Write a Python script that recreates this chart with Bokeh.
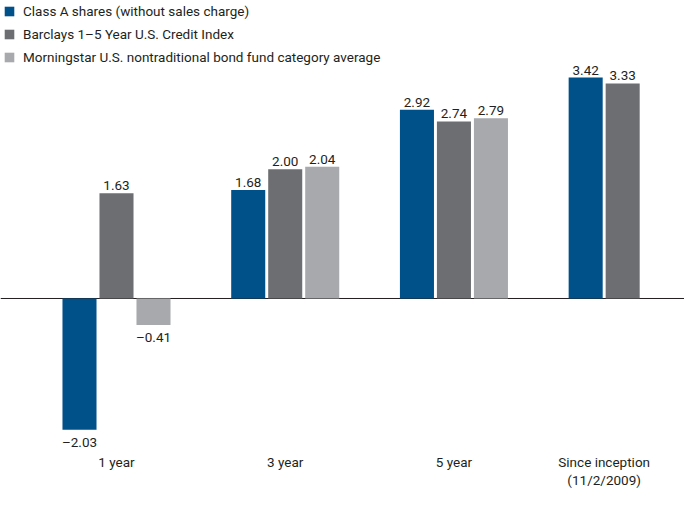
from bokeh.plotting import figure
from bokeh.models import FactorRange, Range1d, ColumnDataSource, Span, Legend, LegendItem
from bokeh.core.properties import value
from bokeh.transform import dodge
from bokeh.embed import file_html
from bokeh.resources import INLINE

periods = ["1 year", "3 year", "5 year", "Since inception"]
period_labels = ["1 year", "3 year", "5 year", "Since inception\n(11/2/2009)"]
series = ["Class A shares (without sales charge)",
          "Barclays 1\u20135 Year U.S. Credit Index",
          "Morningstar U.S. nontraditional bond fund category average"]
series_keys = ["A", "B", "C"]
colors = ["#00508A", "#6D6E71", "#A7A9AC"]

class_a = [-2.03, 1.68, 2.92, 3.42]
barclays = [1.63, 2.00, 2.74, 3.33]
morningstar = [-0.41, 2.04, 2.79, None]

values_by_series = [class_a, barclays, morningstar]

FONT = "Roboto"
TXT = "#231F20"
SHIFT = 0.232  # horizontal shift of the whole bar block, in factor units

factors = []
for i, per in enumerate(periods):
    for k, vals in zip(series_keys, values_by_series):
        if vals[i] is not None:
            factors.append((per, k))

x_range = FactorRange(*factors, group_padding=1.56, factor_padding=0.0,
                      range_padding=1.403, range_padding_units="absolute")

W, H = 684, 502
p = figure(width=W, height=H, x_range=x_range, y_range=Range1d(-3.158, 4.613),
           output_backend="svg", toolbar_location=None,
           min_border_left=0, min_border_right=0, min_border_top=0, min_border_bottom=0)
p.xaxis.visible = False
p.yaxis.visible = False
p.grid.visible = False
p.outline_line_color = None
p.background_fill_color = "white"
p.border_fill_color = "white"

p.add_layout(Span(location=0, dimension="width", line_color=TXT, line_width=1, level="underlay"))

renderers = []
for k, name, vals, col in zip(series_keys, series, values_by_series, colors):
    xs = [(per, k) for per, v in zip(periods, vals) if v is not None]
    ys = [v for v in vals if v is not None]
    src = ColumnDataSource(dict(x=xs, top=ys))
    r = p.vbar(x=dodge("x", SHIFT, range=x_range), top="top", bottom=0, width=0.92,
               source=src, fill_color=col, line_color=None)
    renderers.append(r)

    lab = [f"{v:.2f}".replace("-", "\u2013") for v in ys]
    pos = ColumnDataSource(dict(x=[a for a, v in zip(xs, ys) if v >= 0],
                                y=[v for v in ys if v >= 0],
                                t=[l for l, v in zip(lab, ys) if v >= 0]))
    neg = ColumnDataSource(dict(x=[a for a, v in zip(xs, ys) if v < 0],
                                y=[v for v in ys if v < 0],
                                t=[l for l, v in zip(lab, ys) if v < 0]))
    p.text(x=dodge("x", SHIFT, range=x_range), y="y", text="t", source=pos,
           text_align="center", text_baseline="bottom", y_offset=-3,
           text_font=value(FONT), text_font_size="13.5px", text_color=TXT)
    p.text(x=dodge("x", SHIFT, range=x_range), y="y", text="t", source=neg,
           text_align="center", text_baseline="top", y_offset=4,
           text_font=value(FONT), text_font_size="13.5px", text_color=TXT)

cat_src = ColumnDataSource(dict(x=periods, y=[-2.41] * len(periods), t=period_labels))
p.text(x=dodge("x", SHIFT, range=x_range), y="y", text="t", source=cat_src,
       text_align="center", text_baseline="top",
       text_font=value(FONT), text_font_size="13.5px", text_color=TXT, text_line_height=1.1)

legend = Legend(items=[LegendItem(label=n, renderers=[r]) for n, r in zip(series, renderers)],
                location=(3, 437), orientation="vertical",
                glyph_width=12, glyph_height=12, label_height=17, label_standoff=8,
                spacing=6, padding=0, margin=0,
                label_text_font=FONT, label_text_font_size="13.5px", label_text_color=TXT,
                border_line_color=None, background_fill_alpha=0)
p.add_layout(legend)

open("out.html", "w").write(file_html(p, INLINE))
